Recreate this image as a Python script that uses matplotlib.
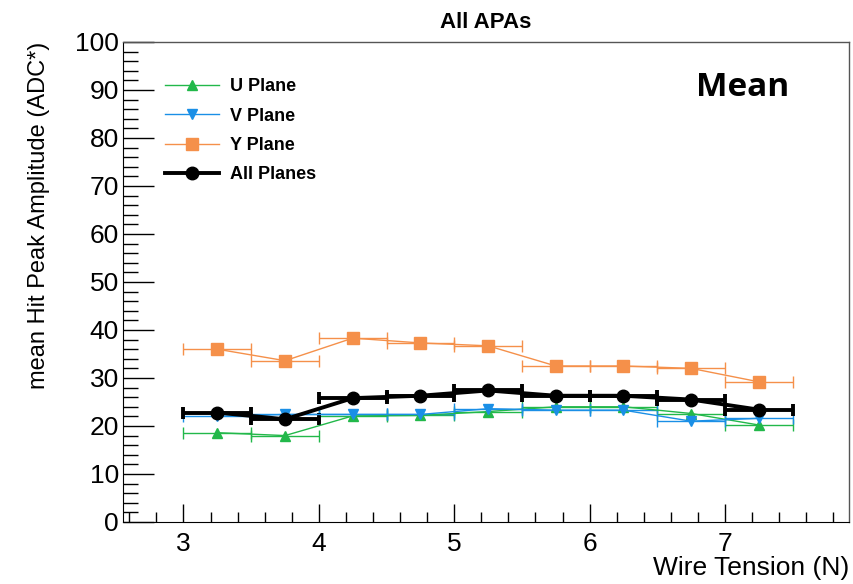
import numpy as np
import matplotlib
matplotlib.use("Agg")
import matplotlib.pyplot as plt
from matplotlib.lines import Line2D
from matplotlib.ticker import MultipleLocator

# wire tension bins (centres) and half width
tension = [3.25, 3.75, 4.25, 4.75, 5.25, 5.75, 6.25, 6.75, 7.25]
half_bin = 0.25

# mean hit peak amplitude per plane
u_plane = [18.6, 18.0, 22.1, 22.2, 23.0, 24.0, 24.0, 22.6, 20.2]
v_plane = [22.0, 22.4, 22.4, 22.4, 23.6, 23.3, 23.3, 21.0, 21.6]
y_plane = [36.0, 33.6, 38.3, 37.3, 36.7, 32.5, 32.5, 32.0, 29.2]
all_planes = [22.8, 21.4, 25.8, 26.3, 27.4, 26.3, 26.3, 25.5, 23.4]

plt.rcParams['font.family'] = ['Liberation Sans', 'DejaVu Sans']

fig = plt.figure(figsize=(8.54, 5.84), dpi=100)
ax = fig.add_axes([0.144, 0.1062, 0.850, 0.8219])

series = [
    ("U Plane", u_plane, "#22b84a", "^", 7, 1.0),
    ("V Plane", v_plane, "#1a8fe6", "v", 7, 1.0),
    ("Y Plane", y_plane, "#f5904a", "s", 8, 1.0),
    ("All Planes", all_planes, "black", "o", 9, 2.8),
]

handles = []
for name, vals, col, mk, ms, lw in series:
    ax.errorbar(tension, vals, xerr=half_bin, color=col, marker=mk, ms=ms,
                lw=lw, elinewidth=lw, capsize=4, capthick=lw)
    handles.append(Line2D([], [], color=col, marker=mk, ms=ms, lw=lw, label=name))

ax.set_xlim(2.553, 7.915)
ax.set_ylim(0, 100)
ax.xaxis.set_major_locator(MultipleLocator(1))
ax.xaxis.set_minor_locator(MultipleLocator(0.2))
ax.yaxis.set_major_locator(MultipleLocator(10))
ax.yaxis.set_minor_locator(MultipleLocator(2))
ax.tick_params(axis='x', which='major', direction='in', length=13, width=1, labelsize=19, pad=7)
ax.tick_params(axis='x', which='minor', direction='in', length=7, width=1)
ax.tick_params(axis='y', which='major', direction='in', length=22, width=1, labelsize=19, pad=3)
ax.tick_params(axis='y', which='minor', direction='in', length=11, width=1)
for side in ['top', 'right']:
    ax.spines[side].set_color('#555555')
    ax.spines[side].set_linewidth(1.0)

ax.set_xlabel("Wire Tension (N)", fontsize=19, loc='right', labelpad=0)
ax.set_ylabel("mean Hit Peak Amplitude (ADC*)", fontsize=17, loc='top', labelpad=18)
ax.set_title("All APAs", fontsize=16, fontweight='bold', pad=10)

ax.legend(handles=handles, loc='upper left', bbox_to_anchor=(0.035, 0.958), frameon=False,
          prop={'weight': 'bold', 'size': 13}, handlelength=3.0,
          labelspacing=0.68, handletextpad=0.6)

ax.text(0.854, 0.905, "Mean", transform=ax.transAxes, ha='center', va='center',
        fontsize=24, fontweight='bold', family=['Open Sans', 'DejaVu Sans'])

fig.savefig("out.png", dpi=100)
